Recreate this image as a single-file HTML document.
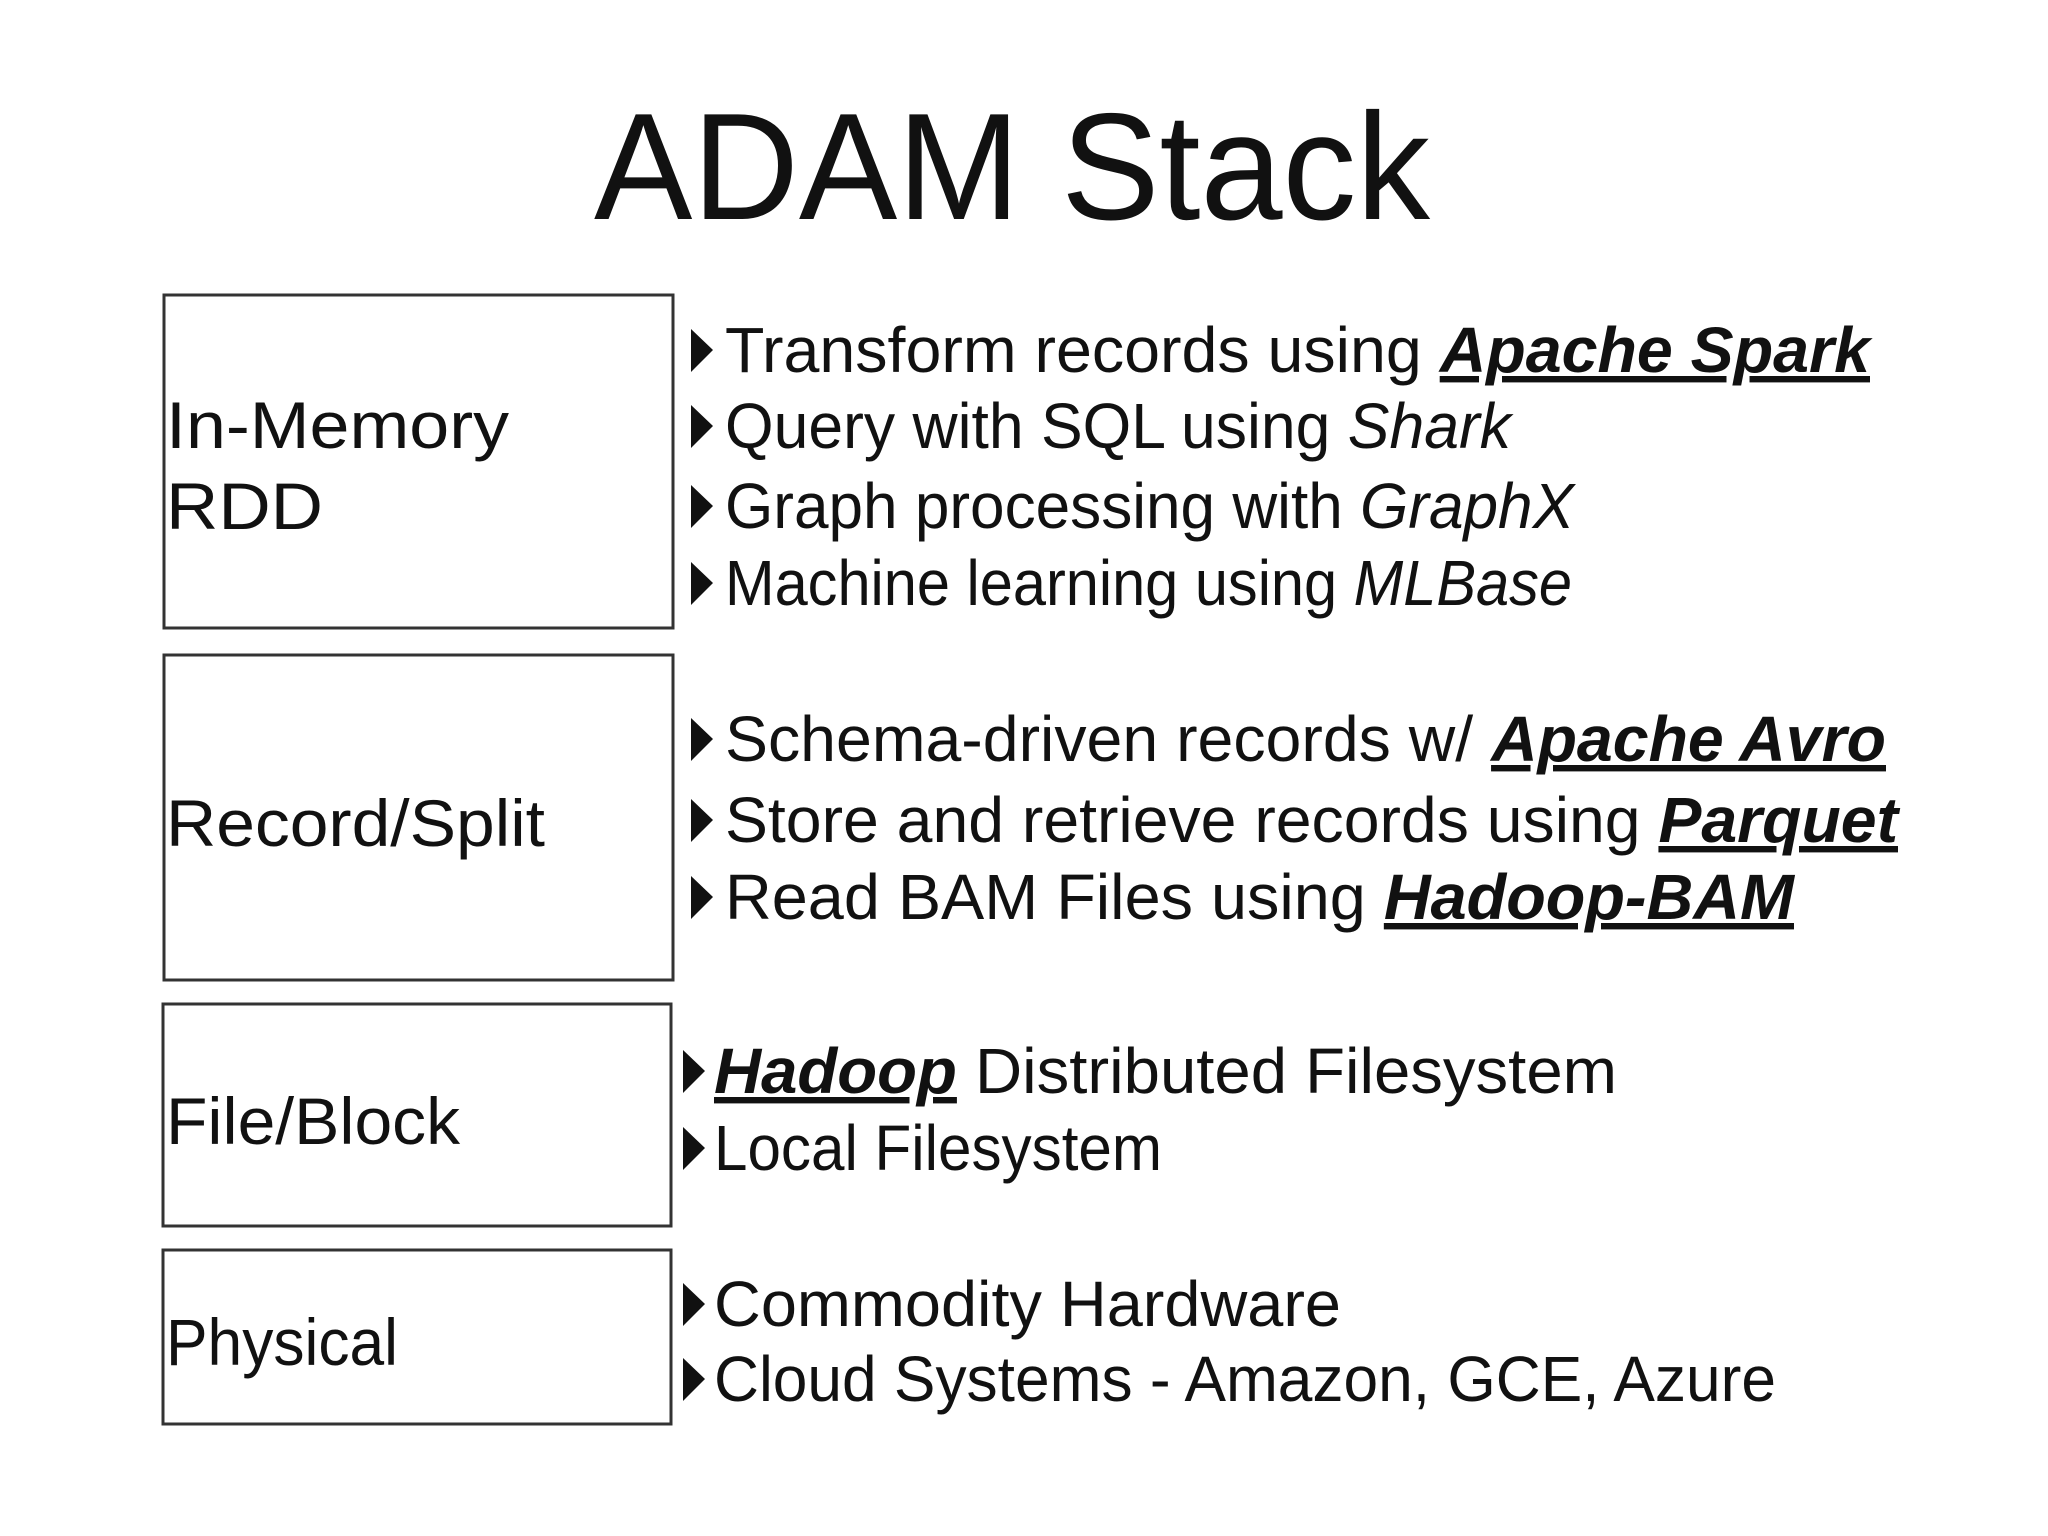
<!DOCTYPE html>
<html><head><meta charset="utf-8"><style>
html,body{margin:0;padding:0;background:#fff;}
svg{display:block}
text{font-family:"Liberation Sans",sans-serif;fill:#111;}
.b{font-size:64px}
.bi{font-weight:bold;font-style:italic;text-decoration:underline}
.i{font-style:italic}
</style></head><body>
<svg width="2048" height="1536" viewBox="0 0 2048 1536" xmlns="http://www.w3.org/2000/svg">
<rect width="2048" height="1536" fill="#fff"/>
<text x="594" y="219" font-size="152" textLength="836" lengthAdjust="spacingAndGlyphs">ADAM Stack</text>
<g fill="none" stroke="#333" stroke-width="3">
<rect x="164" y="295" width="509" height="333"/>
<rect x="164" y="655" width="509" height="325"/>
<rect x="163" y="1004" width="508" height="222"/>
<rect x="163" y="1250" width="508" height="174"/>
</g>
<g class="b">
<text x="166" y="448" font-size="66" textLength="343" lengthAdjust="spacingAndGlyphs">In-Memory</text>
<text x="166" y="529" font-size="66" textLength="157" lengthAdjust="spacingAndGlyphs">RDD</text>
<text x="166" y="846" font-size="66" textLength="379" lengthAdjust="spacingAndGlyphs">Record/Split</text>
<text x="166" y="1144" font-size="66" textLength="294" lengthAdjust="spacingAndGlyphs">File/Block</text>
<text x="166" y="1365" font-size="66" textLength="232" lengthAdjust="spacingAndGlyphs">Physical</text>
</g>
<g fill="#111">
<polygon points="691,329 713,350 691,372"/>
<polygon points="691,405 713,426 691,448"/>
<polygon points="691,485 713,506 691,528"/>
<polygon points="691,562 713,583 691,605"/>
<polygon points="691,718 713,739 691,761"/>
<polygon points="691,799 713,820 691,842"/>
<polygon points="691,876 713,897 691,919"/>
<polygon points="683,1050 705,1071 683,1093"/>
<polygon points="683,1127 705,1148 683,1170"/>
<polygon points="683,1283 705,1304 683,1326"/>
<polygon points="683,1358 705,1379 683,1401"/>
</g>
<g class="b">
<text x="725" y="372" textLength="1145" lengthAdjust="spacingAndGlyphs">Transform records using <tspan class="bi">Apache Spark</tspan></text>
<text x="725" y="448" textLength="786" lengthAdjust="spacingAndGlyphs">Query with SQL using <tspan class="i">Shark</tspan></text>
<text x="725" y="528" textLength="849" lengthAdjust="spacingAndGlyphs">Graph processing with <tspan class="i">GraphX</tspan></text>
<text x="725" y="605" textLength="847" lengthAdjust="spacingAndGlyphs">Machine learning using <tspan class="i">MLBase</tspan></text>
<text x="725" y="761" textLength="1161" lengthAdjust="spacingAndGlyphs">Schema-driven records w/ <tspan class="bi">Apache Avro</tspan></text>
<text x="725" y="842" textLength="1173" lengthAdjust="spacingAndGlyphs">Store and retrieve records using <tspan class="bi">Parquet</tspan></text>
<text x="725" y="919" textLength="1069" lengthAdjust="spacingAndGlyphs">Read BAM Files using <tspan class="bi">Hadoop-BAM</tspan></text>
<text x="714" y="1093" textLength="903" lengthAdjust="spacingAndGlyphs"><tspan class="bi">Hadoop</tspan> Distributed Filesystem</text>
<text x="714" y="1170" textLength="448" lengthAdjust="spacingAndGlyphs">Local Filesystem</text>
<text x="714" y="1326" textLength="627" lengthAdjust="spacingAndGlyphs">Commodity Hardware</text>
<text x="714" y="1401" textLength="1062" lengthAdjust="spacingAndGlyphs">Cloud Systems - Amazon, GCE, Azure</text>
</g>
</svg>
</body></html>
